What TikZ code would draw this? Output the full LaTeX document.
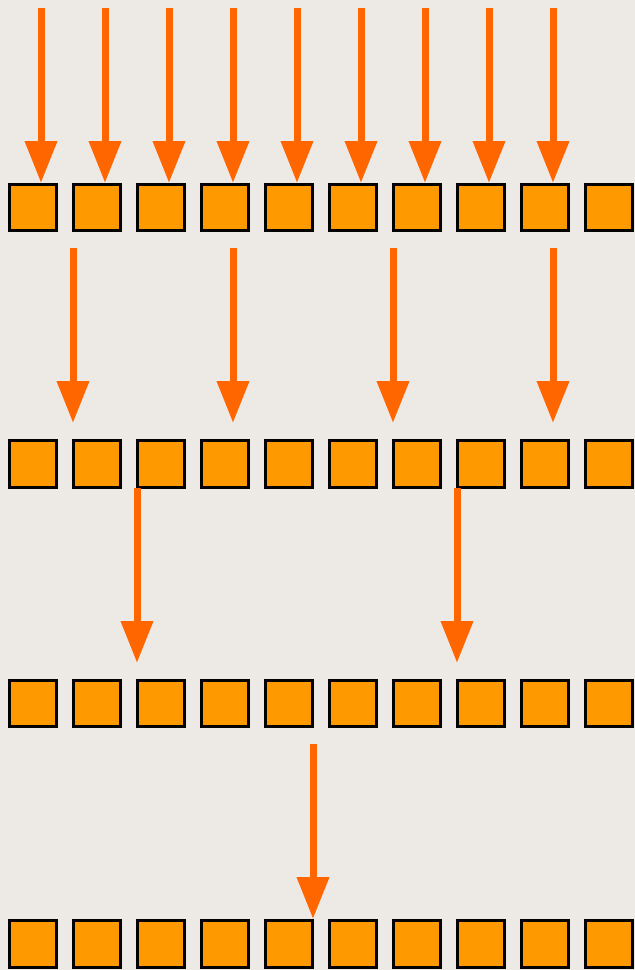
\documentclass[tikz,border=0pt]{standalone}
\usetikzlibrary{arrows.meta}
\definecolor{bg}{HTML}{EDEAE6}
\definecolor{cellfill}{HTML}{FF9900}
\definecolor{arrowc}{HTML}{FF6600}
\tikzset{
  cell/.style={draw=black, fill=cellfill, line width=2.6pt, minimum size=46.5pt, inner sep=0pt, outer sep=0pt},
  flow/.style={draw=arrowc, line width=7pt, -{Triangle[width=31pt,length=42pt]}, arrowc}
}
\begin{document}
\begin{tikzpicture}[x=1pt,y=-1pt]
\fill[bg] (0,0) rectangle (635,970);
\useasboundingbox (0,0) rectangle (635,970);
% rows of cells
\foreach \r/\y in {1/207.5,2/464,3/703.5,4/944}{
  \foreach \c in {0,...,9}{
    \node[cell] (r\r c\c) at ({33+64*\c},\y) {};
  }
}
% row 1 arrows
\foreach \k in {0,...,8}{
  \coordinate (a1s\k) at ({41+64*\k},8);
  \coordinate (a1t\k) at ({41+64*\k},183);
  \draw[flow] (a1s\k) -- (a1t\k);
}
% row 2 arrows
\foreach \k in {0,...,3}{
  \coordinate (a2s\k) at ({73+160*\k},248);
  \coordinate (a2t\k) at ({73+160*\k},423);
  \draw[flow] (a2s\k) -- (a2t\k);
}
% row 3 arrows
\foreach \k in {0,1}{
  \coordinate (a3s\k) at ({137+320*\k},488);
  \coordinate (a3t\k) at ({137+320*\k},663);
  \draw[flow] (a3s\k) -- (a3t\k);
}
% row 4 arrow
\coordinate (a4s0) at (313,744);
\coordinate (a4t0) at (313,919);
\draw[flow] (a4s0) -- (a4t0);
\end{tikzpicture}
\end{document}
